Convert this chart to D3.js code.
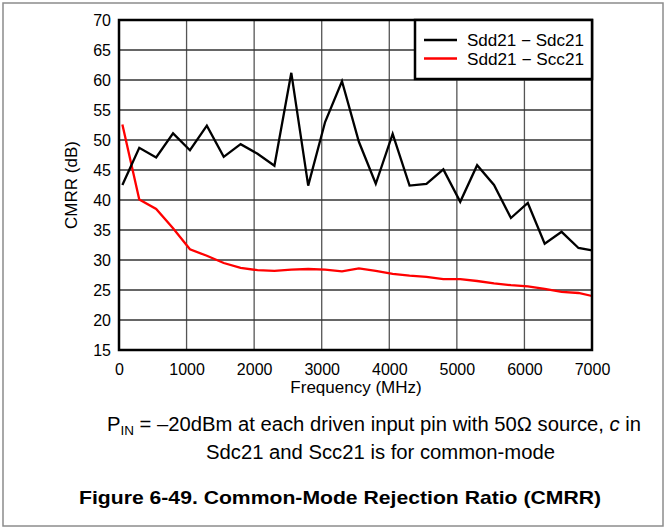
<!DOCTYPE html>
<html><head><meta charset="utf-8">
<script src="https://cdn.jsdelivr.net/npm/d3@7"></script>
<style>body{margin:0;background:#fff}svg{display:block}text{font-family:"Liberation Sans",Arial,sans-serif}</style>
</head><body><svg id="c" width="666" height="529"></svg>
<script>
const freqs = [50,300,550,800,1050,1300,1550,1800,2050,2300,2550,2800,3050,3300,3550,3800,4050,4300,4550,4800,5050,5300,5550,5800,6050,6300,6550,6800,7000];
const sdc = [42.5,48.7,47.1,51.1,48.3,52.4,47.2,49.3,47.7,45.7,61.2,42.4,53.0,59.8,49.7,42.7,51.0,42.4,42.7,45.1,39.7,45.8,42.5,37.0,39.5,32.7,34.7,32.0,31.6];
const scc = [52.6,40.1,38.5,35.3,31.8,30.7,29.5,28.7,28.3,28.2,28.4,28.5,28.4,28.1,28.6,28.2,27.7,27.4,27.2,26.8,26.8,26.5,26.1,25.8,25.6,25.2,24.7,24.5,24.0];
const xTicks = [0,1000,2000,3000,4000,5000,6000,7000];
const yTicks = [15,20,25,30,35,40,45,50,55,60,65,70];
const seriesNames = ["Sdd21 \u2212 Sdc21","Sdd21 \u2212 Scc21"];
const seriesColors = ["#000000","#ff0000"];

const svg = d3.select("#c");
const L=119,R=592,T=20,B=350;
const x = d3.scaleLinear().domain([0,7000]).range([L,R]);
const y = d3.scaleLinear().domain([15,70]).range([B,T]);

svg.append("rect").attr("x",3).attr("y",3).attr("width",660).attr("height",523)
  .attr("fill","none").attr("stroke","#8c8c8c").attr("stroke-width",1.5);

const g = svg.append("g");
g.selectAll(".vg").data(xTicks).join("line").attr("x1",d=>x(d)).attr("x2",d=>x(d)).attr("y1",T).attr("y2",B)
  .attr("stroke","#555").attr("stroke-width",1.3);
g.selectAll(".hg").data(yTicks).join("line").attr("y1",d=>y(d)).attr("y2",d=>y(d)).attr("x1",L).attr("x2",R)
  .attr("stroke","#333").attr("stroke-width",1.3);

const line = d3.line().x((d,i)=>x(freqs[i])).y(d=>y(d));
[scc,sdc].forEach((s,k)=>{
  g.append("path").datum(s).attr("d",line).attr("fill","none")
   .attr("stroke",k===0?seriesColors[1]:seriesColors[0]).attr("stroke-width",2.3).attr("stroke-linejoin","miter");
});

g.append("rect").attr("x",L).attr("y",T).attr("width",R-L).attr("height",B-T).attr("fill","none").attr("stroke","#000").attr("stroke-width",2.5);

const lg = g.append("g");
lg.append("rect").attr("x",415).attr("y",T).attr("width",R-415).attr("height",59).attr("fill","#fff").attr("stroke","#000").attr("stroke-width",2.5);
seriesNames.forEach((n,i)=>{
  const yy = 40 + i*18.5;
  lg.append("line").attr("x1",424).attr("x2",457).attr("y1",yy).attr("y2",yy).attr("stroke",seriesColors[i]).attr("stroke-width",2.5);
  lg.append("text").attr("x",467).attr("y",yy+6).attr("font-size",16).attr("textLength",117).attr("lengthAdjust","spacingAndGlyphs").attr("fill","#000").text(n);
});

const xa = d3.axisBottom(x).tickValues(xTicks).tickSize(0).tickPadding(0).tickFormat(d3.format("d"));
const xg = svg.append("g").attr("transform",`translate(0,${B})`).call(xa);
xg.select(".domain").remove();
xg.selectAll("text").attr("dy",null).attr("y",25).attr("font-size",16).attr("fill","#000").style("font-family","Liberation Sans, Arial, sans-serif");
const ya = d3.axisLeft(y).tickValues(yTicks).tickSize(0).tickPadding(8);
const yg = svg.append("g").attr("transform",`translate(${L},0)`).call(ya);
yg.select(".domain").remove();
yg.selectAll("text").attr("dy","0.36em").attr("font-size",16).attr("fill","#000").style("font-family","Liberation Sans, Arial, sans-serif");

svg.append("text").attr("x",356).attr("y",393).attr("text-anchor","middle").attr("font-size",17).text("Frequency (MHz)");
svg.append("text").attr("transform",`translate(77,${(T+B)/2}) rotate(-90)`).attr("text-anchor","middle").attr("font-size",17).text("CMRR (dB)");

const cap = svg.append("text").attr("x",107).attr("y",431).attr("font-size",19.5).attr("textLength",534).attr("lengthAdjust","spacingAndGlyphs");
cap.append("tspan").text("P");
cap.append("tspan").attr("font-size",13).attr("dy",4).text("IN");
cap.append("tspan").attr("dy",-4).text(" = \u201320dBm at each driven input pin with 50\u03a9 source, ");
cap.append("tspan").attr("font-style","italic").text("c");
cap.append("tspan").text(" in");
svg.append("text").attr("x",206).attr("y",459).attr("font-size",19.5).attr("textLength",349).attr("lengthAdjust","spacingAndGlyphs").text("Sdc21 and Scc21 is for common-mode");
svg.append("text").attr("x",79).attr("y",504).attr("font-size",19).attr("font-weight","bold").attr("textLength",522).attr("lengthAdjust","spacingAndGlyphs").text("Figure 6-49. Common-Mode Rejection Ratio (CMRR)");
</script></body></html>
